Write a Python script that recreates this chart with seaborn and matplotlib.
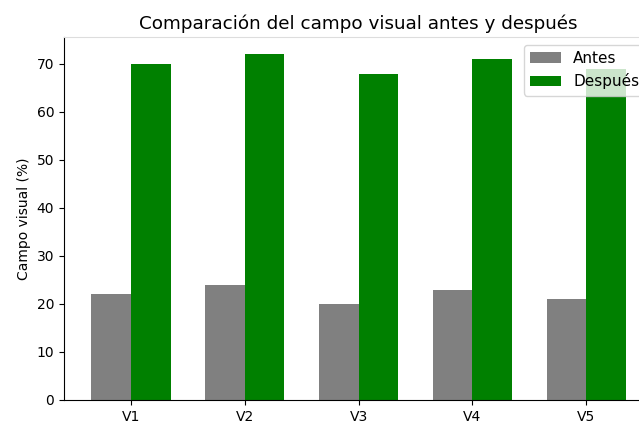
import matplotlib
matplotlib.use("Agg")
import matplotlib.pyplot as plt
import seaborn as sns
import pandas as pd

# data
visitas = ["V1", "V2", "V3", "V4", "V5"]
antes = [22, 24, 20, 23, 21]
despues = [70, 72, 68, 71, 69]

df = pd.DataFrame({
    "Visita": visitas * 2,
    "Campo": antes + despues,
    "Momento": ["Antes"] * len(visitas) + ["Después"] * len(visitas),
})

fig = plt.figure(figsize=(6.39, 4.23), dpi=100)
# axes runs past the right edge, as in the reference crop
ax = fig.add_axes([0.1002, 0.0544, 0.9218, 0.858])

sns.barplot(
    data=df, x="Visita", y="Campo", hue="Momento",
    palette=["gray", "green"], width=0.7, gap=0,
    saturation=1, ax=ax, errorbar=None,
)

ax.set_xlim(-0.585, 4.585)
ax.set_ylim(0, 75.6)
ax.set_yticks(range(0, 80, 10))
ax.set_xlabel("")
ax.set_ylabel("Campo visual (%)")
ax.set_title("Comparación del campo visual antes y después", fontsize=13.2)
ax.spines["top"].set_color("#dddddd")
ax.legend(title=None, loc="upper right", fontsize=11)

fig.savefig("out.png", dpi=100)
